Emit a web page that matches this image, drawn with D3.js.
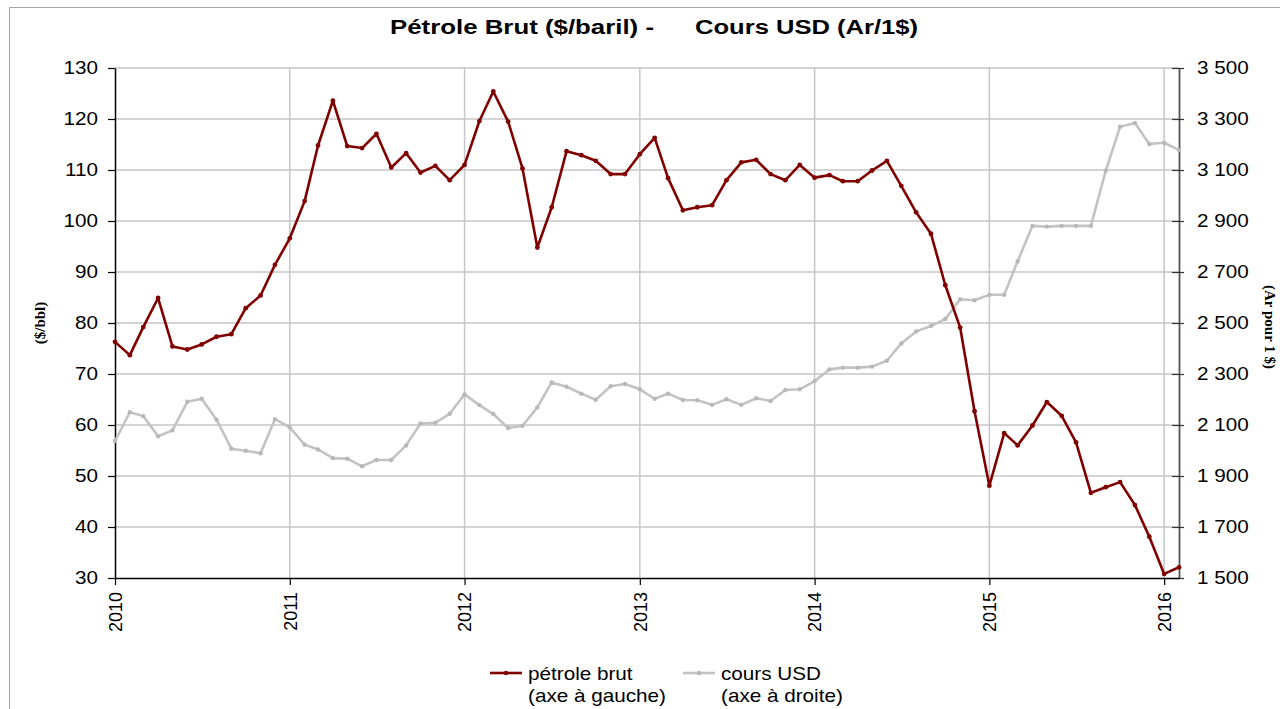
<!DOCTYPE html>
<html>
<head>
<meta charset="utf-8">
<script src="https://cdn.jsdelivr.net/npm/d3@7"></script>
<style>
  body { margin: 0; background: #fff; }
  svg { display: block; font-family: "Liberation Sans", Arial, sans-serif; }
</style>
</head>
<body>
<div id="chart"></div>
<script>
// monthly values, Jan 2010 -> Feb 2016
const startYear = 2010;
const oilPrice = [
  76.3, 73.7, 79.2, 84.9, 75.4, 74.8, 75.8, 77.3, 77.8, 82.9, 85.4, 91.4,
  96.6, 103.9, 114.8, 123.6, 114.7, 114.3, 117.1, 110.5, 113.3, 109.5, 110.8, 108.0,
  111.0, 119.6, 125.4, 119.5, 110.3, 94.8, 102.7, 113.7, 112.9, 111.8, 109.2, 109.2,
  113.1, 116.3, 108.4, 102.1, 102.7, 103.1, 108.0, 111.5, 112.0, 109.2, 108.0, 111.0,
  108.5, 109.0, 107.8, 107.8, 109.9, 111.8, 106.9, 101.7, 97.5, 87.4, 79.1, 62.7,
  48.1, 58.4, 56.0, 59.9, 64.5, 61.8, 56.6, 46.7, 47.8, 48.8, 44.3, 38.1,
  30.8, 32.1
];
const usdRate = [
  2037, 2150, 2135, 2056, 2079, 2191, 2203, 2121, 2007, 1999, 1989, 2123,
  2091, 2023, 2004, 1970, 1968, 1938, 1963, 1963, 2020, 2106, 2109, 2144,
  2220, 2178, 2143, 2088, 2097, 2169, 2267, 2250, 2223, 2199, 2252, 2261,
  2240, 2203, 2223, 2198, 2197, 2179, 2201, 2179, 2205, 2194, 2237, 2240,
  2272, 2318, 2325, 2325, 2329, 2352, 2420, 2467, 2488, 2516, 2593, 2589,
  2611, 2611, 2742, 2881, 2878, 2881, 2881, 2881, 3097, 3270, 3284, 3202,
  3207, 3178
];
const leftTicks = [30, 40, 50, 60, 70, 80, 90, 100, 110, 120, 130];
const rightTicks = [1500, 1700, 1900, 2100, 2300, 2500, 2700, 2900, 3100, 3300, 3500];
const yearTicks = [2010, 2011, 2012, 2013, 2014, 2015, 2016];
const seriesNames = [["pétrole brut", "(axe à gauche)"], ["cours USD", "(axe à droite)"]];

const width = 1280, height = 709;
const margin = { top: 68, right: 101, bottom: 131, left: 115 };
const innerW = width - margin.left - margin.right;
const innerH = height - margin.top - margin.bottom;
const sx = 1.15; // horizontal stretch seen in the reference text

const months = oilPrice.map((d, i) => new Date(startYear, i, 1));

const x = d3.scaleTime()
  .domain([months[0], months[months.length - 1]])
  .range([0, innerW]);
const yL = d3.scaleLinear().domain([30, 130]).range([innerH, 0]);
const yR = d3.scaleLinear().domain([1500, 3500]).range([innerH, 0]);

const fr = d3.formatLocale({ decimal: ",", thousands: " ", grouping: [3], currency: ["", ""] });
const fmtR = fr.format(",d");

const svg = d3.select("#chart").append("svg")
  .attr("width", width)
  .attr("height", height);

// chart frame
svg.append("rect")
  .attr("x", 9.5).attr("y", 7.5)
  .attr("width", width).attr("height", height)
  .attr("fill", "none").attr("stroke", "#a6a6a6");

// title
const title = svg.append("g").attr("font-weight", "bold").attr("font-size", 20).attr("fill", "#000");
title.append("text").attr("x", 390).attr("y", 34)
  .attr("textLength", 264).attr("lengthAdjust", "spacingAndGlyphs")
  .text("Pétrole Brut ($/baril) -");
title.append("text").attr("x", 695).attr("y", 34)
  .attr("textLength", 223).attr("lengthAdjust", "spacingAndGlyphs")
  .text("Cours USD (Ar/1$)");

const g = svg.append("g")
  .attr("transform", `translate(${margin.left},${margin.top})`);

// grid
g.append("g").selectAll("line")
  .data(leftTicks.slice(1))
  .join("line")
  .attr("x1", 0).attr("x2", innerW)
  .attr("y1", d => yL(d)).attr("y2", d => yL(d))
  .attr("stroke", "#c6c6c6").attr("stroke-width", 1.5);

g.append("g").selectAll("line")
  .data(yearTicks.slice(1))
  .join("line")
  .attr("x1", d => x(new Date(d, 0, 1))).attr("x2", d => x(new Date(d, 0, 1)))
  .attr("y1", 0).attr("y2", innerH)
  .attr("stroke", "#c6c6c6").attr("stroke-width", 1.5);

// left axis
const axL = g.append("g")
  .call(d3.axisLeft(yL).tickValues(leftTicks).tickSize(7).tickSizeOuter(0));
axL.select(".domain").attr("stroke", "#000").attr("stroke-width", 1.5);
axL.selectAll(".tick line").attr("stroke", "#000").attr("stroke-width", 1.2);
axL.selectAll("text")
  .attr("x", 0)
  .attr("transform", `translate(-17,0) scale(${sx},1)`)
  .attr("font-size", 18).attr("fill", "#000")
  .attr("font-family", "'Liberation Sans', Arial, sans-serif");

// right axis
const axR = g.append("g")
  .attr("transform", `translate(${innerW},0)`)
  .call(d3.axisRight(yR).tickValues(rightTicks).tickFormat(fmtR).tickSize(6).tickSizeOuter(0));
axR.select(".domain").attr("stroke", "#555").attr("stroke-width", 1.8);
axR.selectAll(".tick line").attr("x1", -7).attr("x2", 5).attr("stroke", "#333").attr("stroke-width", 1.2);
axR.selectAll("text")
  .attr("x", 0)
  .attr("transform", `translate(18,0) scale(${sx},1)`)
  .attr("font-size", 18).attr("fill", "#000")
  .attr("font-family", "'Liberation Sans', Arial, sans-serif");

// bottom axis
const axB = g.append("g")
  .attr("transform", `translate(0,${innerH})`)
  .call(d3.axisBottom(x)
    .tickValues(yearTicks.map(d => new Date(d, 0, 1)))
    .tickFormat(d3.timeFormat("%Y"))
    .tickSize(7).tickSizeOuter(0));
axB.select(".domain").attr("stroke", "#000").attr("stroke-width", 1.5);
axB.selectAll(".tick line").attr("stroke", "#000").attr("stroke-width", 1.2);
axB.selectAll("text")
  .attr("x", 0).attr("y", 0).attr("dy", "0.35em")
  .attr("text-anchor", "end")
  .attr("transform", "translate(0,14) rotate(-90)")
  .attr("font-size", 18).attr("fill", "#000")
  .attr("font-family", "'Liberation Sans', Arial, sans-serif");

// axis titles
svg.append("text")
  .attr("transform", `translate(40,${margin.top + innerH / 2}) rotate(-90)`)
  .attr("text-anchor", "middle").attr("dy", "0.35em")
  .attr("font-family", "'Liberation Serif', 'Times New Roman', serif")
  .attr("font-weight", "bold").attr("font-size", 15)
  .text("($/bbl)");
svg.append("text")
  .attr("transform", `translate(1270,${margin.top + innerH / 2 + 4}) rotate(90)`)
  .attr("text-anchor", "middle").attr("dy", "0.35em")
  .attr("font-family", "'Liberation Serif', 'Times New Roman', serif")
  .attr("font-weight", "bold").attr("font-size", 15)
  .text("(Ar pour 1 $)");

// series
const usdColor = "#c3c3c3", oilColor = "#800000";

const lineR = d3.line().x((d, i) => x(months[i])).y(d => yR(d));
const lineL = d3.line().x((d, i) => x(months[i])).y(d => yL(d));

g.append("path").datum(usdRate)
  .attr("d", lineR).attr("fill", "none")
  .attr("stroke", usdColor).attr("stroke-width", 2.6).attr("stroke-linejoin", "round");
g.append("g").selectAll("circle")
  .data(usdRate).join("circle")
  .attr("cx", (d, i) => x(months[i])).attr("cy", d => yR(d))
  .attr("r", 2.2).attr("fill", "#b8b8b8");

g.append("path").datum(oilPrice)
  .attr("d", lineL).attr("fill", "none")
  .attr("stroke", oilColor).attr("stroke-width", 2.6).attr("stroke-linejoin", "round");
g.append("g").selectAll("circle")
  .data(oilPrice).join("circle")
  .attr("cx", (d, i) => x(months[i])).attr("cy", d => yL(d))
  .attr("r", 2.4).attr("fill", oilColor);

// legend
const legend = svg.append("g").attr("font-size", 18).attr("fill", "#000");
const legendItems = [
  { name: seriesNames[0], color: oilColor, mark: oilColor, x: 490 },
  { name: seriesNames[1], color: usdColor, mark: "#b8b8b8", x: 683 }
];
legendItems.forEach(item => {
  const it = legend.append("g").attr("transform", `translate(${item.x},673)`);
  it.append("line").attr("x1", 0).attr("x2", 32)
    .attr("stroke", item.color).attr("stroke-width", 2.6);
  it.append("circle").attr("cx", 16).attr("r", 2.2).attr("fill", item.mark);
  item.name.forEach((t, k) => {
    it.append("text")
      .attr("transform", `translate(38,${7 + k * 22}) scale(${sx},1)`)
      .text(t);
  });
});
</script>
</body>
</html>
